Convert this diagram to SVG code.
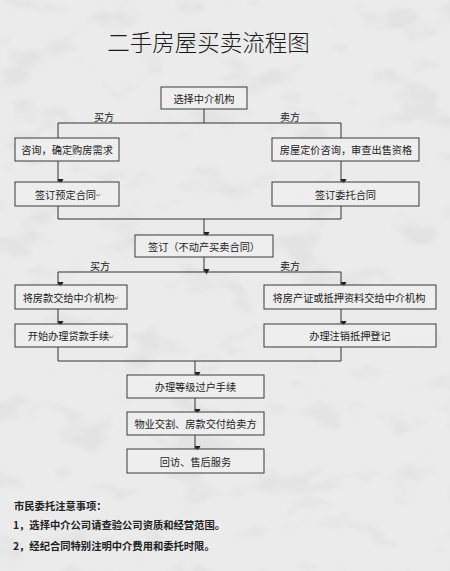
<svg xmlns="http://www.w3.org/2000/svg" width="450" height="571" viewBox="0 0 450 571">
<style>
.box{fill:#efefef;fill-opacity:0.85;stroke:#3a3a3a;stroke-width:1}
.t{font-family:"Noto Sans CJK SC","Noto Sans",sans-serif;font-size:10.2px;fill:#222;text-anchor:middle;dominant-baseline:central}
.lbl{font-family:"Noto Sans CJK SC","Noto Sans",sans-serif;font-size:10px;fill:#222;text-anchor:middle;dominant-baseline:central}
.ret{font-size:6px;fill:#777}
.ln{stroke:#333;stroke-width:1;fill:none}
.ar{stroke:#333;stroke-width:1;fill:none;marker-end:url(#ah)}
.title{font-family:"Noto Sans CJK SC","Noto Sans",sans-serif;font-size:22.5px;font-weight:300;fill:#1a1a1a;text-anchor:middle;dominant-baseline:central}
.note{font-family:"Noto Sans CJK SC","Noto Sans",sans-serif;font-size:10.3px;font-weight:700;fill:#222;dominant-baseline:central}
</style>
<defs>
<marker id="ah" markerUnits="userSpaceOnUse" markerWidth="7" markerHeight="7" refX="3.5" refY="6" orient="auto-start-reverse" viewBox="0 0 7 7">
<path d="M0.5,0.5 L6.5,0.5 L3.5,6 Z" fill="#222" transform="rotate(-90 3.5 3.5)"/>
</marker>
<filter id="tex" x="0" y="0" width="100%" height="100%">
<feTurbulence type="fractalNoise" baseFrequency="0.018 0.03" numOctaves="3" seed="7" result="n"/>
<feColorMatrix in="n" type="matrix" values="0 0 0 0 0.76  0 0 0 0 0.76  0 0 0 0 0.76  6 0 0 0 -3.3"/>
</filter>
</defs>
<g id="background">
<rect x="0" y="0" width="450" height="571" fill="#ebebeb"/>
<rect x="0" y="0" width="450" height="571" filter="url(#tex)" opacity="0.8"/>
</g>
<g id="title"><text class="title" x="208.5" y="41">二手房屋买卖流程图</text></g>
<g id="connectors">
<path class="ln" d="M204,109 V123 M58,123 H341 M58,123 V138 M341,123 V138"/>
<path class="ar" d="M58,161 V182"/>
<path class="ar" d="M341,161 V182"/>
<path class="ln" d="M58,206 V219 H341 V206"/>
<path class="ar" d="M204,219 V235"/>
<path class="ar" d="M204,257 V272"/>
<path class="ln" d="M58,272 H341"/>
<path class="ar" d="M58,272 V285"/>
<path class="ar" d="M341,272 V285"/>
<path class="ar" d="M58,309 V324"/>
<path class="ar" d="M341,309 V324"/>
<path class="ln" d="M58,347 V361 H341 V347"/>
<path class="ar" d="M195,361 V375"/>
<path class="ar" d="M195,398 V412"/>
<path class="ar" d="M195,435 V449"/>
<text class="lbl" x="104" y="116">买方</text>
<text class="lbl" x="290" y="116">卖方</text>
<text class="lbl" x="100" y="265">买方</text>
<text class="lbl" x="290" y="265">卖方</text>
</g>
<g id="n1"><rect class="box" x="161" y="87" width="86" height="22"/><text class="t" x="204" y="98">选择中介机构</text></g>
<g id="n2"><rect class="box" x="15" y="138" width="104" height="23"/><text class="t" x="67" y="149.5">咨询，确定购房需求</text></g>
<g id="n3"><rect class="box" x="272" y="138" width="147" height="23"/><text class="t" x="346" y="149.5">房屋定价咨询，审查出售资格</text></g>
<g id="n4"><rect class="box" x="15" y="182" width="104" height="24"/><text class="t" x="68" y="194">签订预定合同<tspan class="ret">↵</tspan></text></g>
<g id="n5"><rect class="box" x="272" y="182" width="147" height="24"/><text class="t" x="345.5" y="194">签订委托合同</text></g>
<g id="n6"><rect class="box" x="135" y="235" width="138" height="22"/><text class="t" x="204" y="246">签订（不动产买卖合同）</text></g>
<g id="n7"><rect class="box" x="15" y="285" width="112" height="24"/><text class="t" x="71" y="297">将房款交给中介机构<tspan class="ret">↵</tspan></text></g>
<g id="n8"><rect class="box" x="264" y="285" width="172" height="24"/><text class="t" x="349" y="297">将房产证或抵押资料交给中介机构</text></g>
<g id="n9"><rect class="box" x="15" y="324" width="112" height="23"/><text class="t" x="71" y="335.5">开始办理贷款手续<tspan class="ret">↵</tspan></text></g>
<g id="n10"><rect class="box" x="264" y="324" width="172" height="23"/><text class="t" x="350" y="335.5">办理注销抵押登记</text></g>
<g id="n11"><rect class="box" x="127" y="375" width="137" height="23"/><text class="t" x="195.5" y="386.5">办理等级过户手续</text></g>
<g id="n12"><rect class="box" x="127" y="412" width="137" height="23"/><text class="t" x="195.5" y="423.5">物业交割、房款交付给卖方</text></g>
<g id="n13"><rect class="box" x="127" y="449" width="137" height="24"/><text class="t" x="195.5" y="461">回访、售后服务</text></g>
<g id="notes">
<text class="note" x="14" y="505">市民委托注意事项：</text>
<text class="note" x="13" y="524">1，选择中介公司请查验公司资质和经营范围。</text>
<text class="note" x="13" y="545">2，经纪合同特别注明中介费用和委托时限。</text>
</g>
</svg>
